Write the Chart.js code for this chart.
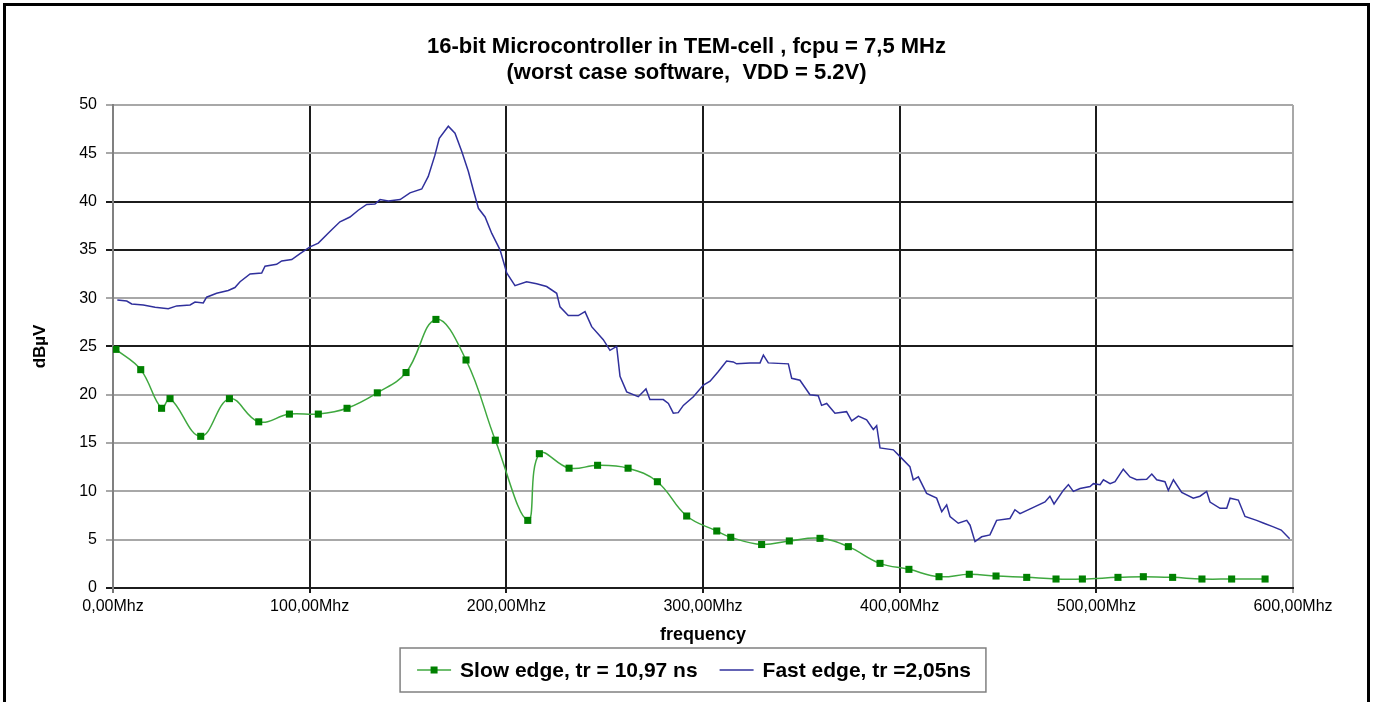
<!DOCTYPE html>
<html>
<head>
<meta charset="utf-8">
<script src="https://cdn.jsdelivr.net/npm/chart.js@4.4.0/dist/chart.umd.min.js"></script>
<style>
html,body{margin:0;padding:0;background:#fff;}
#wrap{width:1373px;height:702px;position:relative;}
</style>
</head>
<body>
<div id="wrap"><canvas id="c"></canvas></div>
<script>
// ---------- data ----------
const titleLines = ['16-bit Microcontroller in TEM-cell , fcpu = 7,5 MHz', '(worst case software,  VDD = 5.2V)'];
const xAxisTitle = 'frequency';
const yAxisTitle = 'dBµV';
const xTickLabels = ['0,00Mhz', '100,00Mhz', '200,00Mhz', '300,00Mhz', '400,00Mhz', '500,00Mhz', '600,00Mhz'];
const seriesNames = ['Slow edge, tr = 10,97 ns', 'Fast edge, tr =2,05ns'];

const slowFreq = [1.5, 14.1, 24.7, 29, 44.6, 59.2, 74.1, 89.7, 104.4, 119, 134.4, 149, 164.2, 179.5, 194.4, 210.9, 216.8, 231.9, 246.4, 261.9, 276.8, 291.7, 307, 314.1, 329.8, 343.9, 359.5, 373.9, 390, 404.7, 420, 435.4, 449, 464.6, 479.5, 492.9, 511, 523.9, 538.8, 553.7, 568.8, 585.8];
const slowLevel = [24.7, 22.6, 18.6, 19.6, 15.7, 19.6, 17.2, 18.0, 18.0, 18.6, 20.2, 22.3, 27.8, 23.6, 15.3, 7.0, 13.9, 12.4, 12.7, 12.4, 11.0, 7.45, 5.9, 5.25, 4.5, 4.87, 5.14, 4.28, 2.55, 1.93, 1.17, 1.42, 1.24, 1.1, 0.93, 0.93, 1.1, 1.17, 1.1, 0.93, 0.93, 0.93];

const fastFreq = [2.2, 7, 9.5, 15.4, 21.4, 28.1, 32.4, 39.2, 41.7, 45.9, 47.6, 52.7, 58.6, 62, 64.6, 69.7, 75.6, 77.3, 83.2, 85.8, 90.9, 95.1, 100.2, 104.4, 110.3, 115.4, 120.5, 124.7, 129, 133.2, 135.8, 140, 146, 151, 157, 160.3, 163.7, 165.9, 170.5, 173.9, 177.3, 180.7, 183.2, 185.8, 189.2, 192.6, 196.8, 200.2, 204.4, 210.3, 215.4, 220.5, 225.6, 227.3, 231.5, 236.6, 240, 243.4, 249.3, 252.7, 256.1, 257.8, 261.2, 267.1, 271, 273, 279.8, 282.4, 284.9, 287.4, 290, 295.1, 300.2, 303.6, 307.8, 312, 315.4, 317.1, 323.9, 329, 330.7, 333.2, 343.4, 345.1, 349.3, 354.4, 358.6, 360.3, 362.9, 367.1, 373, 375.6, 379, 383.2, 386.6, 388.3, 390, 396.8, 400.2, 405.2, 406.9, 409.5, 413.7, 418.8, 421.4, 423.9, 425.6, 429.8, 434.1, 435.8, 438.3, 441.7, 445.9, 449.3, 456.1, 458.6, 461.2, 468, 473.9, 476.4, 478.5, 483.2, 485.8, 488.3, 491.7, 496.8, 498.5, 501.9, 503.6, 507, 509.5, 513.7, 517.1, 520.5, 525.6, 528.2, 530.7, 534.9, 536.6, 539.2, 543.4, 549.3, 552.7, 556.1, 557.8, 562.9, 566.3, 568, 572.2, 575.6, 581.5, 585.2, 589.7, 594, 598.3];
const fastLevel = [29.8, 29.7, 29.4, 29.3, 29.06, 28.9, 29.2, 29.3, 29.6, 29.5, 30.1, 30.5, 30.8, 31.1, 31.7, 32.5, 32.6, 33.3, 33.5, 33.85, 34.0, 34.6, 35.3, 35.7, 36.9, 37.9, 38.4, 39.1, 39.7, 39.75, 40.2, 40.06, 40.2, 40.9, 41.3, 42.6, 44.8, 46.55, 47.8, 47.07, 45.2, 43.1, 41.2, 39.3, 38.4, 36.7, 35.0, 32.6, 31.3, 31.7, 31.5, 31.2, 30.5, 29.1, 28.2, 28.2, 28.6, 27.05, 25.7, 24.6, 25.0, 21.9, 20.3, 19.8, 20.6, 19.5, 19.5, 19.1, 18.1, 18.15, 18.9, 19.8, 21.0, 21.4, 22.4, 23.5, 23.4, 23.2, 23.3, 23.3, 24.1, 23.3, 23.2, 21.7, 21.5, 20.0, 19.9, 18.9, 19.1, 18.1, 18.25, 17.3, 17.8, 17.4, 16.4, 16.8, 14.5, 14.3, 13.6, 12.56, 11.2, 11.5, 9.8, 9.3, 7.9, 8.6, 7.4, 6.7, 7.0, 6.5, 4.8, 5.3, 5.5, 7.0, 7.2, 8.1, 7.7, 8.35, 8.9, 9.5, 8.7, 10.1, 10.7, 10.0, 10.3, 10.5, 10.8, 10.7, 11.2, 10.8, 11.0, 12.3, 11.5, 11.2, 11.25, 11.8, 11.2, 11.0, 10.1, 11.2, 9.9, 9.3, 9.5, 10.0, 8.9, 8.25, 8.25, 9.3, 9.1, 7.4, 7.0, 6.7, 6.35, 6.0, 5.1];

// ---------- styling ----------
const FONT = '"Liberation Sans", Arial, Helvetica, sans-serif';
const DARK = '#1c1c1c';
const GRAY = '#a8a8a8';
const darkY = [0, 25, 35, 40];
const darkX = [100, 200, 300, 400, 500];

const toPoints = (xs, ys) => xs.map((x, i) => ({x: x, y: ys[i]}));

const framePlugin = {
  id: 'frame',
  beforeDraw(chart) {
    const ctx = chart.ctx;
    ctx.save();
    ctx.fillStyle = '#fff';
    ctx.fillRect(0, 0, chart.width, chart.height);
    ctx.strokeStyle = '#000';
    ctx.lineWidth = 3;
    ctx.strokeRect(4.5, 4.5, chart.width - 9, chart.height + 20);
    ctx.restore();
  }
};

const boxLegend = {
  id: 'boxLegend',
  afterDraw(chart) {
    const ctx = chart.ctx;
    ctx.save();
    ctx.font = 'bold 21px ' + FONT;
    ctx.textBaseline = 'middle';
    const sample = 34, gapText = 9, gapItems = 22, padL = 17, padR = 15;
    const items = chart.data.datasets.map(ds => ({ds: ds, w: sample + gapText + ctx.measureText(ds.label).width}));
    const total = padL + padR + items.reduce((a, it) => a + it.w, 0) + gapItems * (items.length - 1);
    const cx = 693, by = 648, bh = 44;
    const bx = cx - total / 2;
    ctx.strokeStyle = '#808080';
    ctx.lineWidth = 1.5;
    ctx.strokeRect(bx, by, total, bh);
    const cy = by + bh / 2;
    let x = bx + padL;
    items.forEach(it => {
      const ds = it.ds;
      ctx.strokeStyle = ds.borderColor;
      ctx.lineWidth = ds.borderWidth;
      ctx.beginPath();
      ctx.moveTo(x, cy);
      ctx.lineTo(x + sample, cy);
      ctx.stroke();
      if (ds.pointRadius > 0) {
        ctx.fillStyle = ds.pointBackgroundColor;
        ctx.fillRect(x + sample / 2 - 3.5, cy - 3.5, 7, 7);
      }
      ctx.fillStyle = '#000';
      ctx.fillText(ds.label, x + sample + gapText, cy + 1);
      x += it.w + gapItems;
    });
    ctx.restore();
  }
};

new Chart(document.getElementById('c'), {
  type: 'line',
  data: {
    datasets: [
      {
        label: seriesNames[0],
        data: toPoints(slowFreq, slowLevel),
        borderColor: '#3fa83f',
        borderWidth: 1.5,
        tension: 0.4,
        pointStyle: 'rect',
        pointRadius: 5,
        pointBackgroundColor: '#008000',
        pointBorderColor: '#008000',
        pointBorderWidth: 0,
        fill: false
      },
      {
        label: seriesNames[1],
        data: toPoints(fastFreq, fastLevel),
        borderColor: '#30309c',
        borderWidth: 1.5,
        tension: 0,
        pointRadius: 0,
        fill: false
      }
    ]
  },
  options: {
    responsive: true,
    maintainAspectRatio: false,
    animation: false,
    layout: {padding: {left: 0, right: 0, top: 0, bottom: 52}},
    plugins: {
      legend: {display: false},
      tooltip: {enabled: false},
      title: {
        display: true,
        text: titleLines,
        color: '#000',
        font: {family: FONT, size: 22, weight: 'bold', lineHeight: 1.18},
        padding: {top: 34, bottom: 19}
      }
    },
    scales: {
      x: {
        type: 'linear',
        min: 0, max: 600,
        afterFit(s) { s.height = 62; },
        ticks: {
          stepSize: 100,
          color: '#000',
          font: {family: FONT, size: 16},
          padding: 4,
          maxRotation: 0,
          callback: (v) => xTickLabels[Math.round(v / 100)]
        },
        grid: {
          color: (c) => darkX.includes(c.tick.value) ? DARK : (c.tick.value === 0 ? '#777' : GRAY),
          lineWidth: 2,
          tickLength: 5
        },
        border: {color: DARK, width: 2},
        title: {
          display: true,
          text: xAxisTitle,
          color: '#000',
          font: {family: FONT, size: 18, weight: 'bold'},
          padding: {top: 0, bottom: 4}
        }
      },
      y: {
        min: 0, max: 50,
        afterFit(s) { s.width = 113; },
        ticks: {
          stepSize: 5,
          color: '#000',
          font: {family: FONT, size: 16},
          padding: 9
        },
        grid: {
          color: (c) => darkY.includes(c.tick.value) ? DARK : GRAY,
          lineWidth: 2,
          tickLength: 7
        },
        border: {color: '#808080', width: 2},
        title: {
          display: true,
          text: yAxisTitle,
          color: '#000',
          font: {family: FONT, size: 17, weight: 'bold'},
          padding: {top: 30, bottom: 0}
        }
      },
      yRight: {
        position: 'right',
        min: 0, max: 50,
        afterFit(s) { s.width = 80; },
        ticks: {display: false},
        grid: {display: false, drawTicks: false},
        border: {display: false}
      }
    }
  },
  plugins: [framePlugin, boxLegend]
});
</script>
</body>
</html>
